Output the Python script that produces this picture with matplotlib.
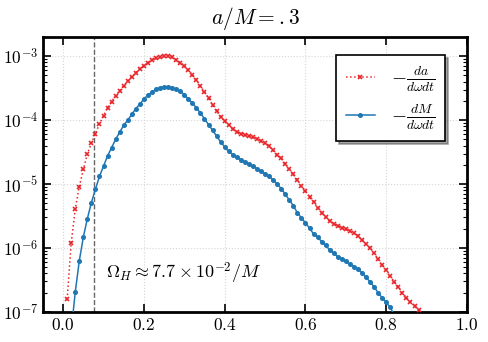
import numpy as np
import matplotlib
matplotlib.use("Agg")
import matplotlib.pyplot as plt

plt.rcParams['font.family'] = 'serif'
plt.rcParams['font.serif'] = ['cmr10', 'DejaVu Serif']
plt.rcParams['mathtext.fontset'] = 'cm'
plt.rcParams['axes.formatter.use_mathtext'] = True

# omega*M grid (marker positions)
omega_red = [0.01, 0.02, 0.03, 0.04, 0.05, 0.06, 0.07, 0.08, 0.09, 0.10,
             0.11, 0.12, 0.13, 0.14, 0.15, 0.16, 0.17, 0.18, 0.19, 0.20,
             0.21, 0.22, 0.23, 0.24, 0.25, 0.26, 0.27, 0.28, 0.29, 0.30,
             0.31, 0.32, 0.33, 0.34, 0.35, 0.36, 0.37, 0.38, 0.39, 0.40,
             0.41, 0.42, 0.43, 0.44, 0.45, 0.46, 0.47, 0.48, 0.49, 0.50,
             0.51, 0.52, 0.53, 0.54, 0.55, 0.56, 0.57, 0.58, 0.59, 0.60,
             0.61, 0.62, 0.63, 0.64, 0.65, 0.66, 0.67, 0.68, 0.69, 0.70,
             0.71, 0.72, 0.73, 0.74, 0.75, 0.76, 0.77, 0.78, 0.79, 0.80,
             0.81, 0.82, 0.83, 0.84, 0.85, 0.86, 0.87, 0.88]
# log10 of -da/(dω dt)
dadwdt_log10 = [-6.80, -5.92, -5.39, -5.04, -4.77, -4.53, -4.36, -4.21, -4.06, -3.93,
                -3.81, -3.71, -3.62, -3.54, -3.46, -3.39, -3.32, -3.26, -3.20, -3.15,
                -3.10, -3.06, -3.03, -3.01, -3.00, -3.00, -3.02, -3.06, -3.10, -3.15,
                -3.22, -3.29, -3.37, -3.47, -3.56, -3.66, -3.76, -3.86, -3.95, -4.02,
                -4.08, -4.14, -4.18, -4.21, -4.23, -4.25, -4.27, -4.29, -4.32, -4.36,
                -4.41, -4.47, -4.55, -4.60, -4.68, -4.77, -4.85, -4.94, -5.03, -5.11,
                -5.20, -5.28, -5.37, -5.45, -5.52, -5.58, -5.62, -5.65, -5.68, -5.71,
                -5.74, -5.77, -5.81, -5.88, -5.94, -6.00, -6.08, -6.18, -6.27, -6.34,
                -6.44, -6.53, -6.61, -6.70, -6.78, -6.84, -6.91, -6.97]

omega_blue = [0.02, 0.03, 0.04, 0.05, 0.06, 0.07, 0.08, 0.09, 0.10,
              0.11, 0.12, 0.13, 0.14, 0.15, 0.16, 0.17, 0.18, 0.19, 0.20,
              0.21, 0.22, 0.23, 0.24, 0.25, 0.26, 0.27, 0.28, 0.29, 0.30,
              0.31, 0.32, 0.33, 0.34, 0.35, 0.36, 0.37, 0.38, 0.39, 0.40,
              0.41, 0.42, 0.43, 0.44, 0.45, 0.46, 0.47, 0.48, 0.49, 0.50,
              0.51, 0.52, 0.53, 0.54, 0.55, 0.56, 0.57, 0.58, 0.59, 0.60,
              0.61, 0.62, 0.63, 0.64, 0.65, 0.66, 0.67, 0.68, 0.69, 0.70,
              0.71, 0.72, 0.73, 0.74, 0.75, 0.76, 0.77, 0.78, 0.79, 0.80,
              0.81, 0.82]
# log10 of -dM/(dω dt)
dMdwdt_log10 = [-7.30, -6.69, -6.20, -5.83, -5.54, -5.29, -5.08, -4.88, -4.72,
                -4.56, -4.43, -4.30, -4.19, -4.08, -4.00, -3.91, -3.82, -3.75, -3.67,
                -3.61, -3.56, -3.52, -3.50, -3.48, -3.48, -3.49, -3.52, -3.55, -3.60,
                -3.67, -3.73, -3.81, -3.89, -3.98, -4.07, -4.16, -4.25, -4.34, -4.42,
                -4.49, -4.54, -4.58, -4.62, -4.66, -4.69, -4.72, -4.76, -4.80, -4.84,
                -4.88, -4.94, -5.00, -5.07, -5.16, -5.25, -5.34, -5.45, -5.53, -5.61,
                -5.69, -5.78, -5.83, -5.90, -5.96, -6.03, -6.08, -6.14, -6.17, -6.21,
                -6.25, -6.29, -6.33, -6.39, -6.46, -6.53, -6.61, -6.70, -6.78, -6.85,
                -6.93, -7.05]

omega_H = 0.077
xticks = [0.0, 0.2, 0.4, 0.6, 0.8, 1.0]

red_vals = 10.0 ** np.array(dadwdt_log10)
blue_vals = 10.0 ** np.array(dMdwdt_log10)

fig = plt.figure(figsize=(4.88, 3.42), dpi=100)
ax = fig.add_axes([0.088, 0.088, 0.869, 0.804])

ax.plot(omega_red, red_vals, linestyle=':', color='#e8262b', marker='x',
        markersize=2.4, markeredgewidth=1.2, linewidth=1.1,
        label=r'$-\frac{da}{d\omega dt}$', zorder=3)
ax.plot(omega_blue, blue_vals, linestyle='-', color='#1f77b4', marker='o',
        markersize=2.6, linewidth=1.1,
        label=r'$-\frac{dM}{d\omega dt}$', zorder=3)
ax.axvline(omega_H, color='#666666', linestyle='--', linewidth=1.0, zorder=2)

ax.text(0.105, 10 ** -6.40, r'$\Omega_H \approx 7.7\times10^{-2}/M$',
        fontsize=13, va='center', ha='left')

ax.set_yscale('log')
ax.set_xlim(-0.05, 1.0)
ax.set_ylim(1e-7, 2e-3)
ax.set_xticks(xticks)
ax.set_title(r'$a/M = .3$', fontsize=15.5, pad=9)

ax.grid(True, which='major', linestyle=':', color='#d5d5d5', linewidth=0.8)
for s in ax.spines.values():
    s.set_linewidth(2)
ax.tick_params(which='both', direction='in', top=True, right=True, labelsize=12.5)
ax.tick_params(which='major', length=6, width=1.2)
ax.tick_params(which='minor', length=3, width=0.8)

leg = ax.legend(loc='upper right', bbox_to_anchor=(0.948, 0.935), borderaxespad=0,
                fontsize=14, fancybox=False, shadow=True, framealpha=1,
                edgecolor='black', handlelength=1.5, borderpad=0.5,
                labelspacing=0.4, handletextpad=0.8)
leg.get_frame().set_linewidth(1.2)

fig.savefig('out.png', dpi=100)
